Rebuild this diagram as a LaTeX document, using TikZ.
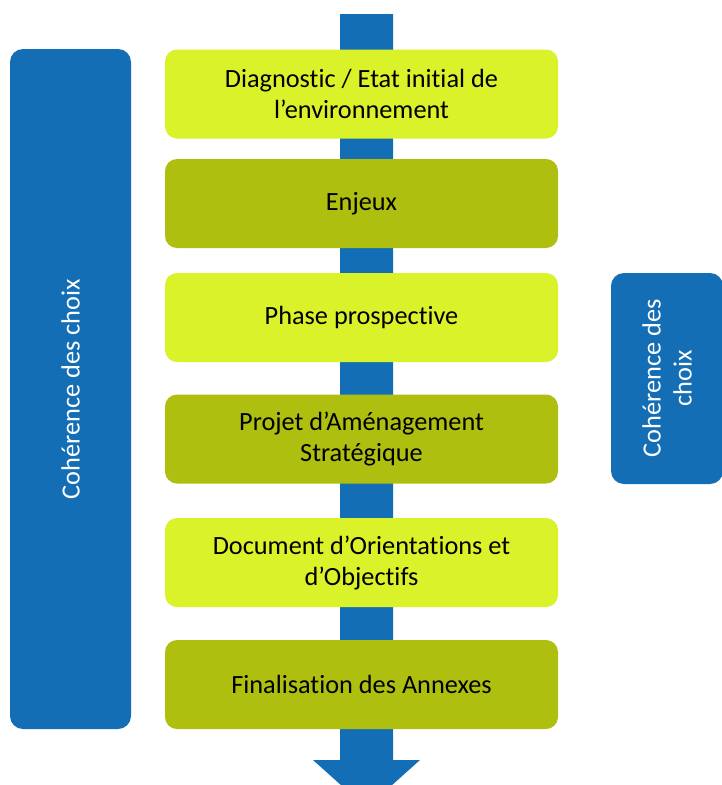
\documentclass[tikz,border=0pt]{standalone}
\usepackage{fontspec}
\setmainfont{Carlito}[Ligatures={NoCommon,TeX}]
\definecolor{lgreen}{HTML}{DAF22A}
\definecolor{dgreen}{HTML}{AEBF10}
\definecolor{cblue}{HTML}{136EB6}
\begin{document}
\begin{tikzpicture}[x=1pt,y=-1pt,
  txt/.style={font=\fontsize{26.3}{31}\selectfont},
  stepbox/.style={txt,rounded corners=12pt,minimum width=393pt,minimum height=89pt,
    align=center,text=black,inner sep=0pt},
  light/.style={stepbox,fill=lgreen},
  dark/.style={stepbox,fill=dgreen},
  bluebox/.style={fill=cblue,rounded corners=13pt,inner sep=0pt}]
\useasboundingbox (0,0) rectangle (722,785);
\clip (0,0) rectangle (722,785);
\fill[white] (0,0) rectangle (722,785);
% arrow
\fill[cblue] (340,14) -- (393,14) -- (393,760) -- (420,760) -- (366.5,808) -- (313,760) -- (340,760) -- cycle;
% step boxes
\node[light] (s1) at (361.5,94) {Diagnostic / Etat initial de\\l’environnement};
\node[dark]  (s2) at (361.5,203.5) {Enjeux};
\node[light] (s3) at (361.5,317.5) {Phase prospective};
\node[dark]  (s4) at (361.5,439) {Projet d’Aménagement\\Stratégique};
\node[light] (s5) at (361.5,562.5) {Document d’Orientations et\\d’Objectifs};
\node[dark]  (s6) at (361.5,684.5) {Finalisation des Annexes};
% left blue box
\node[bluebox,minimum width=121pt,minimum height=680pt] (lb) at (70.5,389) {};
\node[txt,text=white,rotate=90] (lt) at (lb.center) {Cohérence des choix};
% right blue box
\node[bluebox,minimum width=112pt,minimum height=211pt] (rb) at (667,378.5) {};
\node[txt,text=white,rotate=90,align=center] (rt) at (rb.center) {Cohérence des\\choix};
\end{tikzpicture}
\end{document}
